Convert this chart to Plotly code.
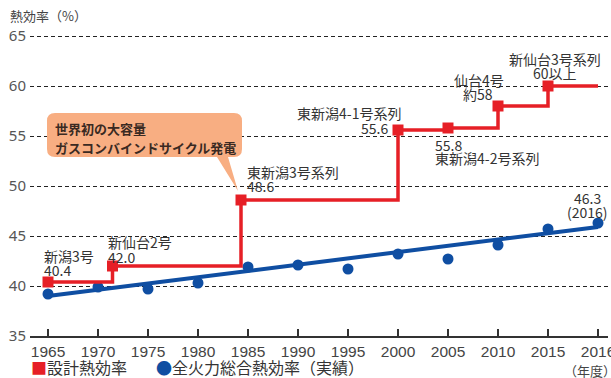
import plotly.graph_objects as go

# ---- data -------------------------------------------------------------
years = ["1965", "1970", "1975", "1980", "1985", "1990", "1995",
         "2000", "2005", "2010", "2015", "2016"]
year_pos = list(range(len(years)))

# 全火力総合熱効率（実績）
actual_eff = [39.2, 39.9, 39.7, 40.3, 41.9, 42.1, 41.7, 43.2, 42.7, 44.1, 45.7, 46.3]
# trend line through the actual values (start / end)
trend_eff = [39.0, 45.9]

# 設計熱効率: unit commissioning positions on the year axis and values
design_pos = [0, 1.29, 3.86, 7, 8, 9, 10]
design_eff = [40.4, 42.0, 48.6, 55.6, 55.8, 58, 60]
design_name = ["新潟3号", "新仙台2号", "東新潟3号系列", "東新潟4-1号系列",
               "東新潟4-2号系列", "仙台4号", "新仙台3号系列"]
design_text = ["40.4", "42.0", "48.6", "55.6", "55.8", "約58", "60以上"]

y_ticks = [35, 40, 45, 50, 55, 60, 65]

# ---- styling ----------------------------------------------------------
W, H = 611, 378
ML, MR, MT, MB = 30, 3, 31, 42
XR = [-0.36, 11.2]
YR = [35, 65.5]
PX_X = (W - ML - MR) / (XR[1] - XR[0])   # pixels per x unit
PX_Y = (H - MT - MB) / (YR[1] - YR[0])   # pixels per y unit

RED = "#e61f26"
BLUE = "#0f4ea2"
TXT = "#333333"
JP = "Noto Sans CJK JP, Noto Sans, sans-serif"

fig = go.Figure()

# trend line and actual efficiency dots
fig.add_trace(go.Scatter(
    x=[year_pos[0], year_pos[-1]], y=trend_eff, mode="lines",
    line=dict(color=BLUE, width=4), hoverinfo="skip", showlegend=False))
fig.add_trace(go.Scatter(
    x=year_pos, y=actual_eff, mode="markers",
    marker=dict(color=BLUE, size=11), showlegend=False))

# design efficiency step line
fig.add_trace(go.Scatter(
    x=design_pos + [year_pos[-1]], y=design_eff + [design_eff[-1]],
    mode="lines", line=dict(color=RED, width=3.5, shape="hv"),
    hoverinfo="skip", showlegend=False))
fig.add_trace(go.Scatter(
    x=design_pos, y=design_eff, mode="markers",
    marker=dict(color=RED, size=11, symbol="square"), showlegend=False))

# ---- labels for each design point --------------------------------------
# (name offset, value offset, anchor) in pixels relative to the point
label_off = [
    ((-6, 26), (-6, 12), "left"),
    ((-6.5, 24), (-6.5, 9), "left"),
    ((4, 28), (4, 14), "left"),
    ((5, 17), (-8, 2.5), "right"),
    ((-15, -30), (-15, -17), "left"),
    ((-19, 26), (-20, 12), "center"),
    ((7, 27), (6.5, 13), "center"),
]
ann = []
for x, v, name, txt, (no, vo, anc) in zip(design_pos, design_eff, design_name,
                                          design_text, label_off):
    for s, (sx, sy) in ((name, no), (txt, vo)):
        ann.append(dict(x=x, y=v, xref="x", yref="y", text=s, showarrow=False,
                        xanchor=anc, yanchor="middle", xshift=sx, yshift=sy,
                        font=dict(family=JP, size=14, color=TXT)))

# last actual value
for s, sy in (("46.3", 25), ("(2016)", 11)):
    ann.append(dict(x=year_pos[-1], y=actual_eff[-1], xref="x", yref="y", text=s,
                    showarrow=False, xanchor="center", yanchor="middle",
                    xshift=-10.5, yshift=sy,
                    font=dict(family=JP, size=14, color=TXT)))

# ---- callout box pointing at the 1984 combined-cycle unit ---------------
cx, cy = design_pos[2], design_eff[2]


def off(px, py):
    """pixel offset from the callout anchor -> data coordinates"""
    return cx + px / PX_X, cy - py / PX_Y


bx0, bx1, by0, by1, r = -194, 1, -87, -43, 8
(x0, y0), (x1, y1) = off(bx0, by0), off(bx1, by1)
rx, ry = r / PX_X, r / PX_Y
tb1, _ = off(-24, 0)
tb2, _ = off(-13, 0)
tipx, tipy = off(-3, -9)
path = (f"M {x0+rx},{y0} L {x1-rx},{y0} Q {x1},{y0} {x1},{y0-ry} "
        f"L {x1},{y1+ry} Q {x1},{y1} {x1-rx},{y1} "
        f"L {tb2},{y1} L {tipx},{tipy} L {tb1},{y1} "
        f"L {x0+rx},{y1} Q {x0},{y1} {x0},{y1+ry} "
        f"L {x0},{y0-ry} Q {x0},{y0} {x0+rx},{y0} Z")
shapes = [dict(type="path", path=path, xref="x", yref="y",
               fillcolor="#f8ae82", line=dict(width=0), layer="above")]

for s, py in (("世界初の大容量", -72), ("ガスコンバインドサイクル発電", -53)):
    ax, ay = off(-188.5, py)
    ann.append(dict(x=ax, y=ay, xref="x", yref="y", text=f"<b>{s}</b>",
                    showarrow=False, xanchor="left", yanchor="middle",
                    font=dict(family=JP, size=13, color="#3a2a22")))


# paper coords for the figure-wide texts are relative to the plot area
def pxp(px):
    return (px - ML) / (W - ML - MR)


def pyp(py):
    return (H - MB - py) / (H - MT - MB)


# ---- axis title, legend, unit ------------------------------------------
ann.append(dict(x=pxp(8), y=pyp(16), xref="paper", yref="paper",
                text="熱効率（%）", showarrow=False, xanchor="left", yanchor="middle",
                font=dict(family=JP, size=13, color="#444")))
ann.append(dict(x=pxp(29), y=pyp(367), xref="paper", yref="paper",
                text=f"<span style='color:{RED}'>■</span>設計熱効率",
                showarrow=False, xanchor="left", yanchor="middle",
                font=dict(family=JP, size=16, color=TXT)))
ann.append(dict(x=pxp(154), y=pyp(367), xref="paper", yref="paper",
                text=f"<span style='color:{BLUE}'>●</span>全火力総合熱効率（実績）",
                showarrow=False, xanchor="left", yanchor="middle",
                font=dict(family=JP, size=16, color=TXT)))
ann.append(dict(x=pxp(562), y=pyp(370), xref="paper", yref="paper",
                text="（年度）", showarrow=False, xanchor="left", yanchor="middle",
                font=dict(family=JP, size=13, color="#444")))

fig.update_layout(
    width=W, height=H,
    margin=dict(l=ML, r=MR, t=MT, b=MB, pad=0, autoexpand=False),
    paper_bgcolor="white", plot_bgcolor="white",
    showlegend=False,
    annotations=ann, shapes=shapes,
    xaxis=dict(range=XR, tickvals=year_pos, ticktext=years,
               automargin=False,
               showgrid=False, zeroline=False,
               showline=True, linecolor="#333", linewidth=2,
               ticks="inside", ticklen=7, tickwidth=1.5, tickcolor="#333",
               ticklabelstandoff=0, ticklabeloverflow="allow",
               tickfont=dict(family="Liberation Sans, sans-serif",
                             size=15.5, color="#444")),
    yaxis=dict(range=YR, tickvals=y_ticks, showgrid=True,
               automargin=False,
               gridcolor="#222", gridwidth=1, griddash="4px,3px",
               zeroline=False, showline=False, ticks="",
               ticklabelstandoff=3,
               tickfont=dict(family="Noto Sans, sans-serif", size=15, color="#555")),
)

fig.write_html("out.html")
